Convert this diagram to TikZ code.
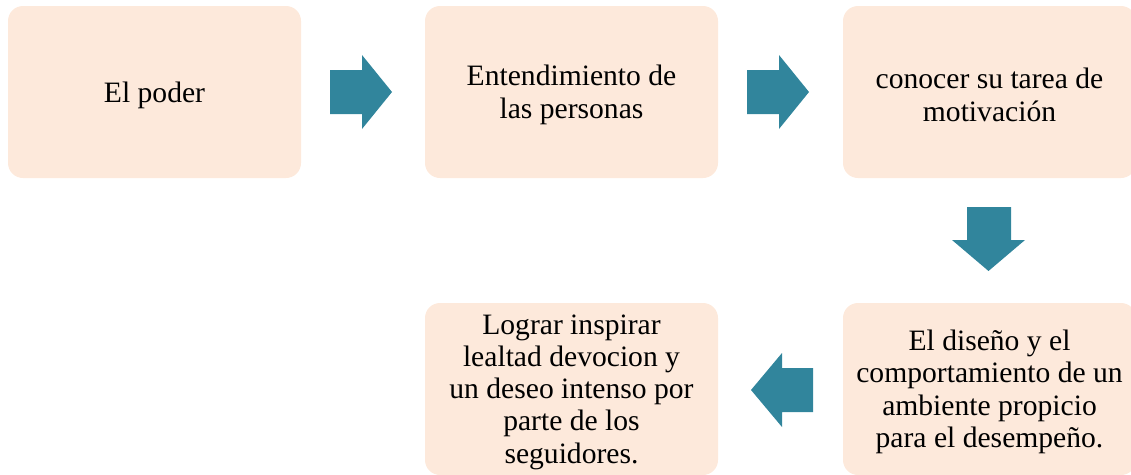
\documentclass[tikz,border=0pt]{standalone}
\usepackage{fontspec}
\setmainfont{Liberation Serif}
\definecolor{boxfill}{HTML}{FDE9DB}
\definecolor{arrowfill}{HTML}{31859C}
\begin{document}
\begin{tikzpicture}[x=1pt,y=-1pt,
  boxshape/.style={fill=boxfill, rounded corners=15pt},
  steptext/.style={inner sep=0pt, align=center,
    font=\fontsize{29.6}{32.3}\selectfont},
  blockarrow/.style={fill=arrowfill}]
\useasboundingbox (0,0) rectangle (1131,474);
\clip (0,0) rectangle (1131,474);
% boxes
\fill[boxshape] (8,6) rectangle (301,178);
\fill[boxshape] (425,6) rectangle (718,178);
\fill[boxshape] (843,6) rectangle (1136,178);
\fill[boxshape] (843,303) rectangle (1136,475);
\fill[boxshape] (425,303) rectangle (718,475);
% texts
\node[steptext] (b1) at (154.5,95) {El poder};
\node[steptext] (b2) at (571.5,95) {Entendimiento de\\las personas};
\node[steptext] (b3) at (989.5,95) {conocer su tarea de\\motivación};
\node[steptext] (b4) at (989.5,392) {El diseño y el\\comportamiento de un\\ambiente propicio\\para el desempeño.};
\node[steptext] (b5) at (571.5,392) {Lograr inspirar\\lealtad devocion y\\un deseo intenso por\\parte de los\\seguidores.};
% right arrow b1 -> b2
\fill[blockarrow] (330,70) -- (362,70) -- (362,55) -- (392,92) -- (362,129) -- (362,114) -- (330,114) -- cycle;
% right arrow b2 -> b3
\fill[blockarrow] (747,70) -- (779,70) -- (779,55) -- (809,92) -- (779,129) -- (779,114) -- (747,114) -- cycle;
% down arrow b3 -> b4
\fill[blockarrow] (967,207) -- (1011,207) -- (1011,240) -- (1025,240) -- (988.5,271) -- (952,240) -- (967,240) -- cycle;
% left arrow b4 -> b5
\fill[blockarrow] (813,368) -- (782,368) -- (782,353) -- (751,390) -- (782,427) -- (782,412) -- (813,412) -- cycle;
\end{tikzpicture}
\end{document}
